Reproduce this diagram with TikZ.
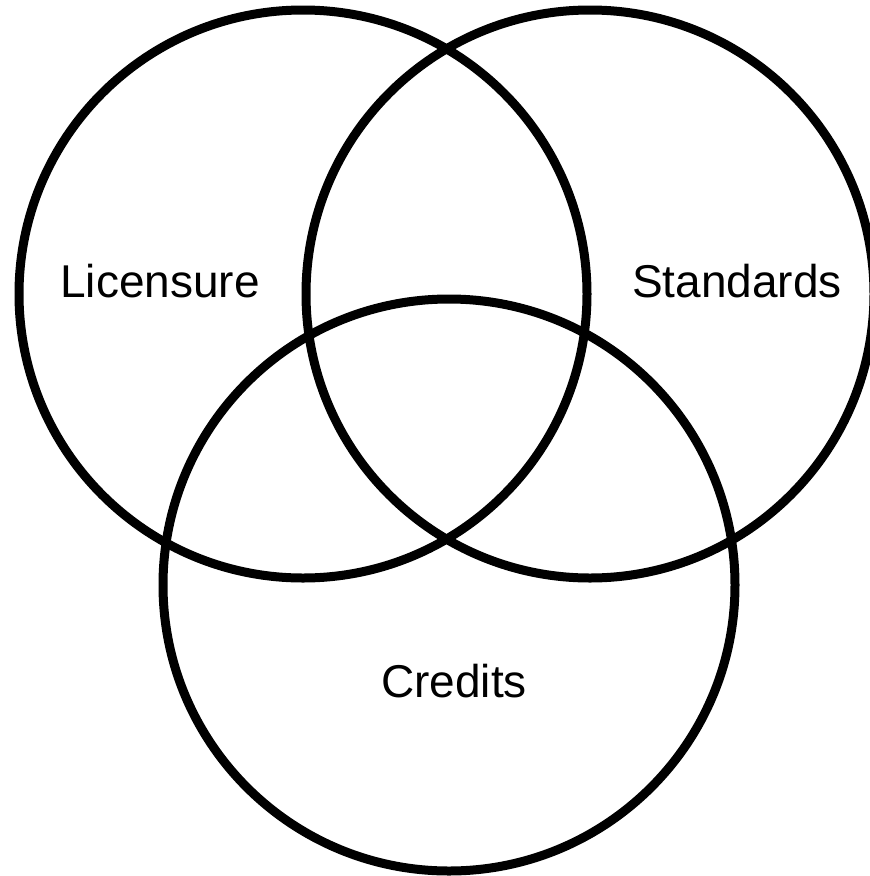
\documentclass[tikz,border=0pt]{standalone}
\usepackage{fontspec}
\setmainfont{Liberation Sans}
\usetikzlibrary{positioning}

\begin{document}
\begin{tikzpicture}[
      x=1pt,y=-1pt,ring/.style={draw,line width=9pt},
      lbl/.style={font=\fontsize{46}{50}\selectfont,inner sep=0pt}
    ]
    \useasboundingbox (0,0) rectangle (870,876);
    \clip (0,0) rectangle (870,876);
    \draw[ring] (303,294) circle (284);
    \draw[ring] (590,294) circle (284);
    \draw[ring] (449,585) circle (286);
    \node[lbl] (lic) at (160,281) {Licensure};
    \node[lbl] (std) at (737,281) {Standards};
    \node[lbl] (cre) at (454,681) {Credits};
  \end{tikzpicture}
\end{document}
